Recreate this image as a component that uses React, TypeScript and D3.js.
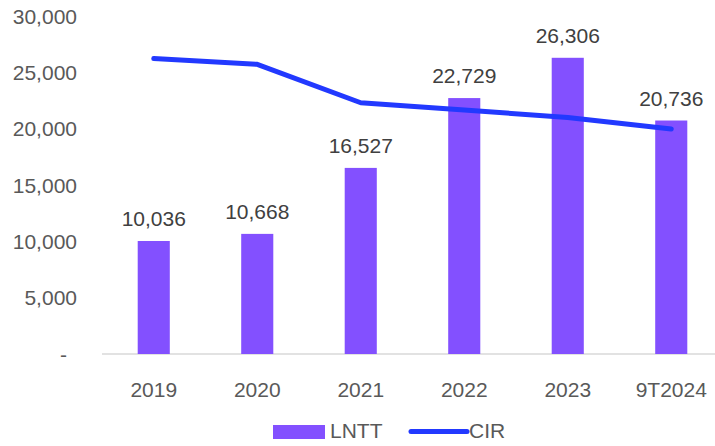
import React from "react";
import * as d3 from "d3";

const categories = ["2019", "2020", "2021", "2022", "2023", "9T2024"];
const lnttValues = [10036, 10668, 16527, 22729, 26306, 20736];
// CIR line, expressed in primary-axis units
const cirValues = [26240, 25725, 22315, 21670, 21000, 19980];
const yTicks = [0, 5000, 10000, 15000, 20000, 25000, 30000];

const W = 715;
const H = 446;
const BAR = "#8350FF";
const LINE = "#2239FF";
const FONT = "'Liberation Sans', Arial, sans-serif";

export default function App() {
  const x = d3
    .scaleBand<string>()
    .domain(categories)
    .range([102, 723])
    .paddingInner(0.69)
    .paddingOuter(0.345);
  const y = d3.scaleLinear().domain([0, 30000]).range([354, 16.2]);
  const fmt = d3.format(",");
  const cx = (c: string) => (x(c) as number) + x.bandwidth() / 2;

  const line = d3
    .line<number>()
    .x((_, i) => cx(categories[i]))
    .y((d) => y(d));

  return (
    <svg
      width={W}
      height={H}
      style={{ position: "absolute", left: 0, top: 0, background: "#fff" }}
      fontFamily={FONT}
    >
      {yTicks.map((t) => (
        <text
          key={t}
          x={t === 0 ? 67 : 77}
          y={y(t) + 7.5}
          textAnchor="end"
          fontSize={21}
          fill="#595959"
        >
          {t === 0 ? "-" : fmt(t)}
        </text>
      ))}
      <line x1={102} x2={W} y1={y(0)} y2={y(0)} stroke="#D9D9D9" strokeWidth={1.5} />
      {categories.map((c, i) => (
        <g key={c}>
          <rect
            x={x(c)}
            y={y(lnttValues[i])}
            width={x.bandwidth()}
            height={y(0) - y(lnttValues[i])}
            fill={BAR}
          />
          <text
            x={cx(c)}
            y={y(lnttValues[i]) - 15}
            textAnchor="middle"
            fontSize={21}
            fill="#404040"
          >
            {fmt(lnttValues[i])}
          </text>
          <text x={cx(c)} y={y(0) + 43} textAnchor="middle" fontSize={21} fill="#595959">
            {c}
          </text>
        </g>
      ))}
      <path
        d={line(cirValues) || ""}
        fill="none"
        stroke={LINE}
        strokeWidth={5}
        strokeLinecap="round"
        strokeLinejoin="round"
      />
      <g>
        <rect x={273} y={425} width={52} height={14} fill={BAR} />
        <text x={330} y={438} fontSize={21} fill="#595959">
          LNTT
        </text>
        <line x1={411} x2={467} y1={431.5} y2={431.5} stroke={LINE} strokeWidth={5} strokeLinecap="round" />
        <text x={469} y={438} fontSize={21} fill="#595959">
          CIR
        </text>
      </g>
    </svg>
  );
}
